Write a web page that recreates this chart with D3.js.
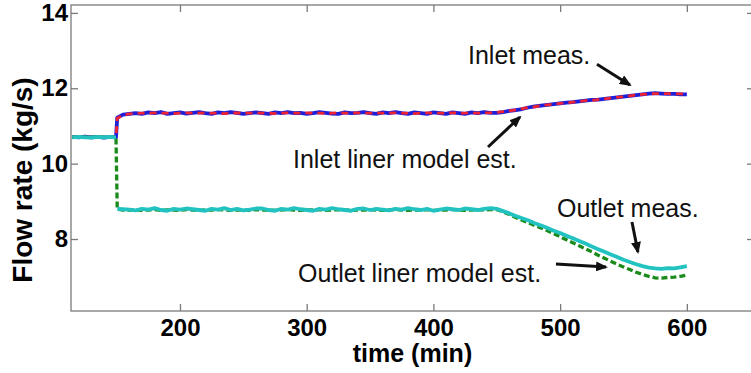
<!DOCTYPE html>
<html lang="en">
<head>
  <meta charset="UTF-8"/>
  <title>Flow rate chart</title>
  <script src="https://d3js.org/d3.v7.min.js"></script>
  <style>
    body { margin: 0; background: #fff; }
    text { font-family: "Liberation Sans", Arial, sans-serif; }
  </style>
</head>
<body>
<script>
var w = 751;
var h = 373;

// time (min)
var time = [115,120,125,130,135,140,145,149.5,150.5,155,160,165,170,175,180,185,190,195,200,205,
  210,215,220,225,230,235,240,245,250,255,260,265,270,275,280,285,290,295,300,305,
  310,315,320,325,330,335,340,345,350,355,360,365,370,375,380,385,390,395,400,405,
  410,415,420,425,430,435,440,445,450,455,460,465,470,475,480,485,490,495,500,505,
  510,515,520,525,530,535,540,545,550,555,560,565,570,575,580,585,590,595,600];

var inletMeas = [10.71,10.70,10.72,10.70,10.71,10.69,10.71,10.70,
  11.22,11.30,11.32,
  11.34,11.32,11.36,11.34,11.37,11.32,11.34,11.36,11.33,11.35,
  11.37,11.34,11.32,11.36,11.34,11.37,11.35,11.32,11.34,11.36,
  11.34,11.32,11.36,11.34,11.37,11.34,11.35,11.32,11.34,11.37,
  11.35,11.33,11.32,11.36,11.34,11.35,11.37,11.34,11.32,11.36,
  11.34,11.37,11.34,11.32,11.36,11.34,11.32,11.36,11.34,11.32,
  11.36,11.34,11.32,11.36,11.34,11.37,11.35,11.35,
  11.37,11.40,11.42,11.45,11.49,11.52,11.54,11.56,11.58,11.60,
  11.62,11.63,11.65,11.67,11.69,11.70,11.72,11.74,11.76,11.78,
  11.80,11.82,11.84,11.86,11.87,11.86,11.85,11.85,11.84,11.84];

var inletModel = [10.70,10.71,10.70,10.70,10.71,10.70,10.70,10.70,
  11.20,11.29,11.32,
  11.33,11.34,11.34,11.35,11.34,11.34,11.33,11.34,11.35,11.34,
  11.34,11.35,11.34,11.34,11.33,11.34,11.35,11.34,11.34,11.35,
  11.34,11.34,11.33,11.34,11.35,11.34,11.34,11.35,11.34,11.34,
  11.33,11.34,11.35,11.34,11.34,11.35,11.34,11.34,11.35,11.34,
  11.34,11.35,11.34,11.34,11.33,11.34,11.35,11.34,11.34,11.34,
  11.35,11.34,11.34,11.35,11.34,11.35,11.35,11.36,
  11.38,11.40,11.43,11.46,11.49,11.51,11.54,11.56,11.58,11.60,
  11.61,11.63,11.65,11.67,11.68,11.70,11.72,11.74,11.76,11.78,
  11.80,11.82,11.84,11.85,11.86,11.86,11.86,11.85,11.85,11.85];

var outletMeas = [10.70,10.71,10.70,10.69,10.71,10.70,10.71,10.70,
  8.80,8.79,8.78,
  8.76,8.80,8.78,8.82,8.77,8.75,8.80,8.78,8.81,8.79,
  8.77,8.75,8.80,8.78,8.82,8.77,8.80,8.76,8.78,8.81,
  8.81,8.77,8.75,8.80,8.78,8.82,8.79,8.77,8.75,8.80,
  8.78,8.82,8.79,8.77,8.75,8.80,8.81,8.77,8.80,8.78,
  8.76,8.80,8.78,8.82,8.79,8.77,8.80,8.75,8.78,8.81,
  8.79,8.77,8.81,8.79,8.77,8.80,8.82,8.80,
  8.74,8.68,8.61,8.55,8.49,8.42,8.36,8.29,8.22,8.16,
  8.09,8.02,7.95,7.88,7.80,7.73,7.66,7.59,7.52,7.45,
  7.39,7.33,7.28,7.24,7.22,7.21,7.23,7.22,7.25,7.28];

var outletModel = [10.70,10.70,10.70,10.70,10.70,10.70,10.70,10.70,
  8.79,8.77,8.77,
  8.77,8.76,8.77,8.78,8.76,8.77,8.77,8.76,8.78,8.77,
  8.76,8.77,8.77,8.78,8.77,8.76,8.77,8.77,8.76,8.78,
  8.77,8.77,8.76,8.77,8.78,8.77,8.76,8.77,8.77,8.78,
  8.76,8.77,8.78,8.77,8.76,8.77,8.77,8.78,8.77,8.76,
  8.77,8.78,8.77,8.76,8.77,8.77,8.78,8.76,8.77,8.77,
  8.78,8.77,8.76,8.77,8.78,8.77,8.78,8.78,
  8.72,8.65,8.57,8.50,8.43,8.36,8.29,8.22,8.14,8.06,
  7.98,7.90,7.82,7.74,7.66,7.57,7.49,7.41,7.33,7.26,
  7.19,7.12,7.06,7.01,6.97,6.96,6.98,6.99,7.01,7.04];

var stepTime = 150;

var xTicks = [200, 300, 400, 500, 600];
var yTicks = [8, 10, 12, 14];

// annotation text + arrow, in data units: [t, v] for text, arrow from -> to
var noteText  = ["Inlet meas.", "Inlet liner model est.", "Outlet meas.", "Outlet liner model est."];
var noteAt    = [[427.3, 12.64], [289.2, 9.885], [497.5, 8.584], [293.1, 6.86]];
var arrowFrom = [[529.1, 12.64], [443.1, 10.442], [556.7, 8.452], [496.7, 7.337]];
var arrowTo   = [[555.1, 12.087], [468.3, 11.238], [561.4, 7.656], [536.2, 7.257]];

var x = d3.scaleLinear().domain([114, 653]).range([71, 754]);
var y = d3.scaleLinear().domain([6.09, 14.21]).range([311, 5]);

var svg = d3.select("body")
            .append("svg")
            .attr("width", w)
            .attr("height", h);

svg.append("defs").append("marker")
   .attr("id", "head")
   .attr("markerUnits", "userSpaceOnUse")
   .attr("markerWidth", 12)
   .attr("markerHeight", 10)
   .attr("refX", 10)
   .attr("refY", 5)
   .attr("orient", "auto")
   .append("path")
   .attr("d", "M0,0 L12,5 L0,10 z")
   .attr("fill", "#111");

// frame
svg.append("rect")
   .attr("x", x.range()[0])
   .attr("y", y.range()[1])
   .attr("width", x.range()[1] - x.range()[0])
   .attr("height", y.range()[0] - y.range()[1])
   .attr("fill", "none")
   .attr("stroke", "#7a7a7a")
   .attr("stroke-width", 1.3);

function styleAxis(g) {
  g.select(".domain").remove();
  g.selectAll(".tick line").attr("stroke", "#7a7a7a").attr("stroke-width", 1.3);
  g.selectAll(".tick text")
   .attr("fill", "#000")
   .style("font-size", "24px")
   .style("font-weight", "bold")
   .style("font-family", "'Liberation Sans', Arial, sans-serif");
}

svg.append("g")
   .attr("transform", "translate(0," + y.range()[0] + ")")
   .call(d3.axisBottom(x).tickValues(xTicks).tickSizeInner(-7).tickSizeOuter(0).tickPadding(8))
   .call(styleAxis);

svg.append("g")
   .attr("transform", "translate(0," + y.range()[1] + ")")
   .call(d3.axisTop(x).tickValues(xTicks).tickSizeInner(-7).tickSizeOuter(0).tickFormat(""))
   .call(styleAxis);

svg.append("g")
   .attr("transform", "translate(" + x.range()[0] + ",0)")
   .call(d3.axisLeft(y).tickValues(yTicks).tickSizeInner(-7).tickSizeOuter(0).tickPadding(3))
   .call(styleAxis);

svg.append("g")
   .attr("transform", "translate(" + x.range()[1] + ",0)")
   .call(d3.axisRight(y).tickValues(yTicks).tickSizeInner(-7).tickSizeOuter(0).tickFormat(""))
   .call(styleAxis);

// lines
var line = d3.line()
             .x(function(d) { return x(d.t); })
             .y(function(d) { return y(d.v); });

function rows(vals) {
  return time.map(function(t, i) { return {t: t, v: vals[i]}; });
}

var plot = svg.append("g");

plot.append("path")
    .attr("d", line(rows(inletMeas)))
    .attr("fill", "none")
    .attr("stroke", "#1f1fd8")
    .attr("stroke-width", 3.8)
    .attr("stroke-linejoin", "round");

plot.append("path")
    .attr("d", line(rows(inletModel)))
    .attr("fill", "none")
    .attr("stroke", "#ee2233")
    .attr("stroke-width", 2.8)
    .attr("stroke-dasharray", "7,5");

plot.append("path")
    .attr("d", line(rows(outletModel)))
    .attr("fill", "none")
    .attr("stroke", "#1a8a1a")
    .attr("stroke-width", 3.3)
    .attr("stroke-dasharray", "6,3");

// measured outlet is plotted as points, so no link across the step
var om = rows(outletMeas);
[om.filter(function(d) { return d.t < stepTime; }),
 om.filter(function(d) { return d.t > stepTime; })].forEach(function(seg) {
  plot.append("path")
      .attr("d", line(seg))
      .attr("fill", "none")
      .attr("stroke", "#22c2c0")
      .attr("stroke-width", 3.8)
      .attr("stroke-linejoin", "round");
});

// annotations
noteText.forEach(function(s, i) {
  svg.append("text")
     .attr("x", x(noteAt[i][0]))
     .attr("y", y(noteAt[i][1]))
     .style("font-size", "25px")
     .attr("fill", "#111")
     .text(s);
  svg.append("line")
     .attr("x1", x(arrowFrom[i][0]))
     .attr("y1", y(arrowFrom[i][1]))
     .attr("x2", x(arrowTo[i][0]))
     .attr("y2", y(arrowTo[i][1]))
     .attr("stroke", "#111")
     .attr("stroke-width", 3)
     .attr("marker-end", "url(#head)");
});

// axis titles
svg.append("text")
   .attr("x", (x.range()[0] + x.range()[1]) / 2)
   .attr("y", 362)
   .attr("text-anchor", "middle")
   .style("font-size", "25px")
   .style("font-weight", "bold")
   .text("time (min)");

svg.append("text")
   .attr("transform", "translate(32,180) rotate(-90)")
   .attr("text-anchor", "middle")
   .style("font-size", "28px")
   .style("font-weight", "bold")
   .text("Flow rate (kg/s)");
</script>
</body>
</html>
